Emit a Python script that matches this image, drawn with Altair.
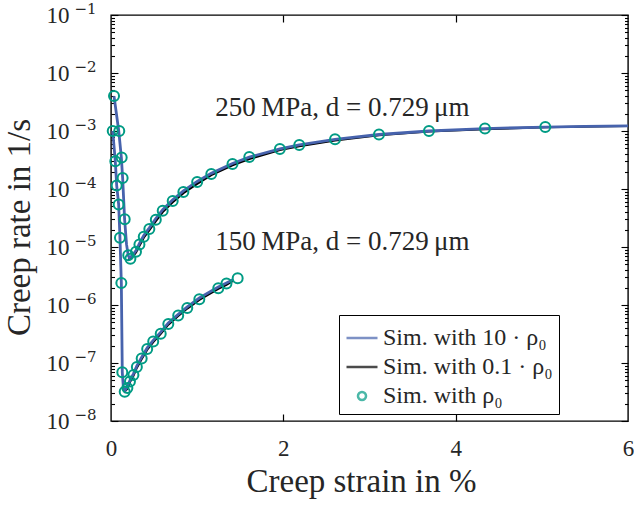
import altair as alt
import pandas as pd

W, H = 517, 406
FONT = "Liberation Serif"
BLUE = "#4763ad"
TEAL = "#009b84"
TXT = "#262626"
S_HI = "Sim. with 10 · ρ₀"
S_LO = "Sim. with 0.1 · ρ₀"
S_RHO = "Sim. with ρ₀"
SERIES = [S_HI, S_LO, S_RHO]

# ---- 250 MPa ----
b250_x = [0.035, 0.09, 0.12, 0.135, 0.158, 0.18, 0.20, 0.215, 0.25, 0.29, 0.33, 0.38, 0.445, 0.52, 0.60,
          0.716, 0.84, 1.0, 1.164, 1.41, 1.605, 1.96, 2.185, 2.6, 3.11, 3.69, 4.34, 5.04, 5.5, 6.0]
b250_y = [4.0e-3, 1.0e-3, 3.5e-4, 1.55e-4, 3.0e-5, 1.12e-5, 7.1e-6, 6.5e-6, 7.2e-6, 8.7e-6, 1.15e-5, 1.58e-5,
          2.14e-5, 3.1e-5, 4.4e-5, 6.5e-5, 9.3e-5, 1.35e-4, 1.86e-4, 2.75e-4, 3.55e-4, 4.9e-4, 5.75e-4,
          7.2e-4, 8.7e-4, 1.0e-3, 1.10e-3, 1.17e-3, 1.20e-3, 1.23e-3]
k250_x = [0.20, 0.25, 0.29, 0.33, 0.38, 0.445, 0.52, 0.60, 0.716, 0.84, 1.0, 1.164, 1.41, 1.605, 1.96,
          2.185, 2.6, 3.11, 3.69, 4.34, 5.04, 6.0]
k250_y = [6.0e-6, 6.8e-6, 8.1e-6, 1.05e-5, 1.45e-5, 1.95e-5, 2.8e-5, 4.0e-5, 5.9e-5, 8.5e-5, 1.23e-4,
          1.74e-4, 2.57e-4, 3.3e-4, 4.7e-4, 5.5e-4, 6.9e-4, 8.5e-4, 9.8e-4, 1.08e-3, 1.16e-3, 1.22e-3]
c250_x = [0.035, 0.096, 0.124, 0.135, 0.159, 0.20, 0.225, 0.29, 0.33, 0.38, 0.445, 0.52, 0.60, 0.716,
          0.84, 1.0, 1.164, 1.41, 1.605, 1.96, 2.185, 2.60, 3.11, 3.69, 4.34, 5.04]
c250_y = [4.0e-3, 1.0e-3, 3.5e-4, 1.55e-4, 3.0e-5, 7.2e-6, 6.3e-6, 8.3e-6, 1.1e-5, 1.5e-5, 2.05e-5,
          2.95e-5, 4.2e-5, 6.2e-5, 8.9e-5, 1.32e-4, 1.82e-4, 2.7e-4, 3.55e-4, 4.9e-4, 5.75e-4, 7.2e-4,
          8.7e-4, 1.0e-3, 1.10e-3, 1.17e-3]

# ---- 150 MPa ----
b150_x = [0.02, 0.05, 0.066, 0.089, 0.104, 0.12, 0.131, 0.145, 0.16, 0.19, 0.22, 0.26, 0.30, 0.356, 0.42,
          0.49, 0.577, 0.665, 0.78, 0.885, 1.025, 1.245, 1.34, 1.42]
b150_y = [1.0e-3, 3.0e-4, 1.15e-4, 5.4e-5, 1.45e-5, 2.4e-6, 6.9e-8, 3.55e-8, 3.3e-8, 3.9e-8, 5.0e-8, 6.5e-8,
          8.9e-8, 1.26e-7, 1.82e-7, 2.45e-7, 3.4e-7, 4.9e-7, 6.9e-7, 9.3e-7, 1.32e-6, 2.04e-6, 2.4e-6, 2.75e-6]
k150_x = [0.155, 0.19, 0.22, 0.26, 0.30, 0.356, 0.42, 0.49, 0.577, 0.665, 0.78, 0.885, 1.025, 1.245, 1.34, 1.42]
k150_y = [3.2e-8, 3.6e-8, 4.7e-8, 6.0e-8, 8.3e-8, 1.17e-7, 1.7e-7, 2.3e-7, 3.2e-7, 4.6e-7, 6.5e-7, 8.7e-7,
          1.23e-6, 1.9e-6, 2.24e-6, 2.63e-6]
c150_x = [0.02, 0.05, 0.066, 0.089, 0.104, 0.12, 0.131, 0.159, 0.19, 0.22, 0.26, 0.30, 0.356, 0.42, 0.49,
          0.577, 0.665, 0.78, 0.885, 1.025, 1.245, 1.34, 1.47]
c150_y = [1.0e-3, 3.0e-4, 1.15e-4, 5.4e-5, 1.45e-5, 2.4e-6, 6.9e-8, 3.2e-8, 3.7e-8, 4.8e-8, 6.2e-8, 8.5e-8,
          1.2e-7, 1.74e-7, 2.35e-7, 3.2e-7, 4.7e-7, 6.6e-7, 8.9e-7, 1.26e-6, 1.95e-6, 2.35e-6, 2.9e-6]

ann_text = ["250\u2009MPa, d = 0.729\u2009μm", "150\u2009MPa, d = 0.729\u2009μm"]
ann_x = [1.21, 1.21]
ann_y = [1.82e-3, 8.9e-6]

x_ticks = [0, 2, 4, 6]
y_major = [1e-8, 1e-7, 1e-6, 1e-5, 1e-4, 1e-3, 1e-2, 1e-1]
y_minor = [m * 10.0 ** e for e in range(-8, -1) for m in range(2, 10)]

# legend-only entries (placed outside the x domain and clipped away)
leg_x = [-1.0, -1.0, -1.0]
leg_y = [1e-3, 1e-3, 1e-3]


def frame(xs, ys, curve):
    return pd.DataFrame({"strain": xs, "rate": ys, "curve": curve})


blue_df = pd.concat([frame(b250_x, b250_y, "250"), frame(b150_x, b150_y, "150")])
black_df = pd.concat([frame(k250_x, k250_y, "250"), frame(k150_x, k150_y, "150")])
circ_df = pd.concat([frame(c250_x, c250_y, "250"), frame(c150_x, c150_y, "150")])
ann_df = pd.DataFrame({"strain": ann_x, "rate": ann_y, "label": ann_text})
leg_df = pd.DataFrame({"strain": leg_x, "rate": leg_y, "series": SERIES})

xs = alt.Scale(domain=[0, 6], nice=False)
ys = alt.Scale(type="log", domain=[1e-8, 1e-1], nice=False)

exp_expr = "'\u2212' + format(round(-log(datum.value)/LN10), 'd')"

x_main = alt.Axis(orient="bottom", values=x_ticks, ticks=False, tickSize=0, domain=False, grid=False,
                  labelFont=FONT, labelFontSize=23, labelColor=TXT, labelPadding=16, labelFlush=False,
                  title="Creep strain in %", titleFont=FONT, titleFontSize=33, titleFontWeight="normal",
                  titleColor=TXT, titleX=250, titleY=44, titleBaseline="top")
y_main = alt.Axis(orient="left", values=y_major, ticks=False, tickSize=0, domain=False, grid=False,
                  labelFont=FONT, labelFontSize=23, labelColor=TXT, labelPadding=42, labelFlush=False,
                  labelOverlap=False, labelExpr="'10'",
                  title="Creep rate in 1/s", titleFont=FONT, titleFontSize=33, titleFontWeight="normal",
                  titleColor=TXT, titleX=-75, titleY=212)
y_exp = alt.Axis(orient="left", values=y_major, ticks=False, tickSize=0, domain=False, grid=False,
                 labelFont="DejaVu Serif", labelFontSize=15, labelColor=TXT, labelPadding=15,
                 labelFlush=False, labelOverlap=False, labelOffset=-7, labelExpr=exp_expr, title="")

nbsp = "\u00a0" * 10
legend = alt.Legend(
    orient="none", legendX=228, legendY=300, title=None,
    padding=6, rowPadding=0, labelFont=FONT, labelFontSize=24, labelColor=TXT, labelLimit=600,
    labelOffset=4, symbolSize=961, symbolStrokeWidth=2.5, symbolFillColor="transparent",
    strokeColor="black", fillColor="white", labelExpr="datum.label + '" + nbsp + "'",
)
LINE_PATH = "M-1,0H1"
CIRC_PATH = "M-0.26,0A0.26,0.26,0,1,1,0.26,0A0.26,0.26,0,1,1,-0.26,0Z"
color_scale = alt.Scale(domain=SERIES, range=[BLUE, "black", TEAL])
shape_scale = alt.Scale(domain=SERIES, range=[LINE_PATH, LINE_PATH, CIRC_PATH])


def tick_layer(y_orient, y_vals, y_size, x_orient=None):
    if x_orient is None:
        xenc = alt.X("strain:Q", scale=xs, axis=None)
    else:
        xenc = alt.X("strain:Q", scale=xs,
                     axis=alt.Axis(orient=x_orient, offset=-H, values=[2, 4], tickSize=7, tickWidth=1.2,
                                   tickColor="black", labels=False, domain=False, grid=False, title=""))
    yenc = alt.Y("rate:Q", scale=ys,
                 axis=alt.Axis(orient=y_orient, offset=-W, values=y_vals, tickSize=y_size, tickWidth=1.1,
                               tickColor="black", labels=False, domain=False, grid=False, title=""))
    return alt.Chart(circ_df).mark_point(opacity=0).encode(x=xenc, y=yenc)


t1 = tick_layer("right", y_major, 7, "top")
t2 = tick_layer("right", y_minor, 3.5, "bottom")
t3 = tick_layer("left", y_major, 7)
t4 = tick_layer("left", y_minor, 3.5)
t5 = alt.Chart(circ_df).mark_point(opacity=0).encode(
    x=alt.X("strain:Q", scale=xs, axis=None),
    y=alt.Y("rate:Q", scale=ys, axis=y_exp),
)

legend_layer = alt.Chart(leg_df).mark_point(filled=False, clip=True, strokeWidth=2.5).encode(
    x=alt.X("strain:Q", scale=xs, axis=None),
    y=alt.Y("rate:Q", scale=ys, axis=None),
    color=alt.Color("series:N", scale=color_scale, legend=legend),
    shape=alt.Shape("series:N", scale=shape_scale, legend=legend),
)

black = alt.Chart(black_df).mark_line(strokeWidth=2.2, color="black").encode(
    x=alt.X("strain:Q", scale=xs, axis=x_main),
    y=alt.Y("rate:Q", scale=ys, axis=y_main),
    detail="curve:N",
    order="strain:Q",
)
blue = alt.Chart(blue_df).mark_line(strokeWidth=2.8, color=BLUE).encode(
    x=alt.X("strain:Q", scale=xs, axis=None),
    y=alt.Y("rate:Q", scale=ys, axis=None),
    detail="curve:N",
)
circles = alt.Chart(circ_df).mark_point(size=100, strokeWidth=2, filled=False, opacity=1,
                                        color=TEAL).encode(
    x=alt.X("strain:Q", scale=xs, axis=None),
    y=alt.Y("rate:Q", scale=ys, axis=None),
)
texts = alt.Chart(ann_df).mark_text(font=FONT, fontSize=27, color=TXT, align="left",
                                    baseline="alphabetic").encode(
    x=alt.X("strain:Q", scale=xs, axis=None),
    y=alt.Y("rate:Q", scale=ys, axis=None),
    text="label:N",
)

chart = alt.layer(legend_layer, t1, t2, t3, t4, t5, black, blue, circles, texts).resolve_axis(
    x="independent", y="independent"
).properties(
    width=W, height=H,
    autosize=alt.AutoSizeParams(type="none"),
    padding={"left": 111, "top": 15, "right": 6, "bottom": 87},
    background="white",
).configure(
    font=FONT
).configure_view(
    stroke="black", strokeWidth=1.4
).configure_legend(
    labelFont=FONT, labelFontSize=24, symbolStrokeWidth=2.5, symbolSize=961,
)

chart.save("out.html", embed_options={"renderer": "svg", "actions": False})
